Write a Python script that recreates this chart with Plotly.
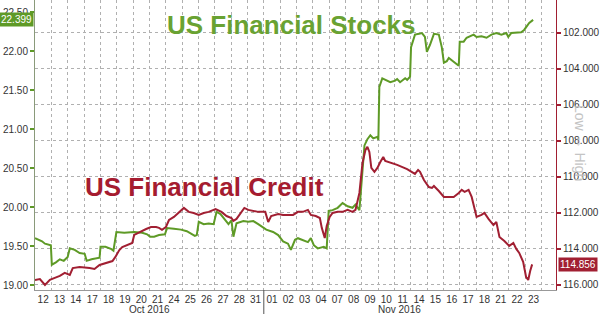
import plotly.graph_objects as go

# trading-day labels (each session occupies one unit on the x axis)
day_labels = ["12", "13", "14", "17", "18", "19", "20", "21", "24", "25", "26", "27", "28", "31",
              "01", "02", "03", "04", "07", "08", "09", "10", "11", "14", "15", "16", "17", "18",
              "21", "22", "23"]
month_labels = ["Oct 2016", "Nov 2016"]
month_pos = [7.0, 22.3]
month_break = 14

# US Financial Stocks (left axis) - session position, price
stocks_x = [0.00, 0.43, 0.61, 0.97, 1.03, 1.28, 1.52, 1.76, 2.00, 2.13, 2.43, 2.73, 3.04, 3.16, 3.46,
            3.95, 4.01, 4.31, 4.68, 4.80, 4.98, 5.46, 6.07, 6.56, 6.86, 7.04, 7.29, 7.59, 7.95, 8.08,
            8.50, 8.93, 9.29, 9.59, 9.78, 9.90, 10.02, 10.32, 10.63, 10.93, 11.11, 11.35, 11.54, 11.84,
            12.02, 12.14, 12.33, 12.75, 13.05, 13.36, 13.66, 13.96, 14.15, 14.57, 14.88, 15.18, 15.48,
            15.66, 15.91, 16.09, 16.39, 16.70, 16.88, 17.06, 17.30, 17.67, 17.85, 17.97, 18.21, 18.52,
            18.82, 19.13, 19.43, 19.61, 19.85, 19.98, 20.16, 20.34, 20.52, 20.70, 20.95, 21.01, 21.07,
            21.25, 21.43, 21.74, 22.04, 22.16, 22.34, 22.65, 22.77, 22.95, 23.01, 23.13, 23.25, 23.50,
            23.68, 23.86, 23.98, 24.17, 24.41, 24.71, 24.89, 25.02, 25.20, 25.32, 25.50, 25.68, 25.93,
            25.99, 26.23, 26.41, 26.84, 27.02, 27.32, 27.63, 27.93, 28.23, 28.54, 28.84, 28.96, 29.14,
            29.45, 29.75, 29.93, 30.24, 30.48]
stocks_y = [19.60, 19.56, 19.53, 19.51, 19.26, 19.29, 19.33, 19.31, 19.36, 19.47, 19.45, 19.41, 19.40, 19.31, 19.33,
            19.35, 19.49, 19.49, 19.46, 19.44, 19.68, 19.67, 19.68, 19.67, 19.65, 19.62, 19.62, 19.64, 19.65, 19.73,
            19.72, 19.71, 19.69, 19.65, 19.63, 19.64, 19.81, 19.78, 19.79, 19.78, 19.94, 19.91, 19.86, 19.78,
            19.83, 19.62, 19.79, 19.82, 19.81, 19.82, 19.78, 19.74, 19.71, 19.68, 19.64, 19.56, 19.53,
            19.45, 19.58, 19.60, 19.58, 19.55, 19.60, 19.51, 19.47, 19.49, 19.47, 19.95, 19.96, 19.99,
            20.05, 20.01, 19.99, 20.03, 19.96, 20.35, 20.79, 20.87, 20.92, 20.88, 20.90, 20.86, 21.54,
            21.65, 21.63, 21.60, 21.62, 21.64, 21.60, 21.65, 21.63, 21.67, 22.05, 22.14, 22.21, 22.22,
            22.23, 22.18, 21.99, 22.08, 22.22, 22.21, 22.05, 21.85, 21.87, 21.91, 21.88, 21.86, 21.81,
            22.12, 22.12, 22.17, 22.21, 22.18, 22.19, 22.17, 22.21, 22.23, 22.21, 22.23, 22.18, 22.23,
            22.24, 22.24, 22.27, 22.36, 22.399]

# US Financial Credit (right axis, inverted) - session position, spread level
credit_x = [0.00, 0.30, 0.61, 0.91, 1.21, 1.52, 1.82, 2.13, 2.31, 2.73, 3.34, 3.64, 3.95, 4.55, 4.74, 4.92,
            5.16, 5.34, 5.65, 5.95, 6.07, 6.38, 6.80, 7.10, 7.41, 7.59, 7.77, 8.01, 8.20, 8.50, 8.80, 9.11,
            9.41, 9.71, 10.02, 10.32, 10.63, 11.05, 11.41, 11.72, 12.02, 12.14, 12.33, 12.57, 12.81, 13.05,
            13.36, 13.66, 14.09, 14.27, 14.45, 14.88, 15.18, 15.48, 15.79, 16.09, 16.39, 16.70, 16.88, 17.18,
            17.43, 17.55, 17.73, 17.85, 18.03, 18.21, 18.52, 18.82, 19.13, 19.43, 19.61, 19.85, 20.04, 20.22,
            20.34, 20.46, 20.58, 20.77, 20.95, 21.13, 21.31, 21.43, 21.86, 22.16, 22.77, 23.07, 23.25, 23.44,
            23.56, 23.80, 24.10, 24.29, 24.41, 24.71, 25.02, 25.38, 25.62, 25.93, 26.11, 26.29, 26.53, 26.72,
            26.90, 27.02, 27.32, 27.50, 27.75, 28.05, 28.23, 28.42, 28.72, 29.02, 29.27, 29.45, 29.63, 29.87,
            30.05, 30.18, 30.30, 30.42]
credit_y = [115.72, 115.67, 116.00, 115.72, 115.61, 115.50, 115.33, 115.44, 115.06, 115.00, 115.06, 115.11, 114.89, 114.72, 114.67, 114.44,
            114.06, 113.89, 113.78, 113.67, 113.22, 113.06, 112.89, 112.78, 112.78, 112.83, 112.94, 112.78, 112.39, 112.22, 112.00, 111.72,
            111.94, 112.00, 112.11, 112.00, 111.94, 111.78, 111.94, 112.17, 112.28, 112.44, 112.33, 112.00, 111.72, 111.83,
            111.89, 111.94, 111.94, 112.50, 112.17, 112.06, 112.11, 112.11, 112.11, 111.94, 111.94, 111.83, 112.11, 112.17,
            112.28, 112.83, 113.39, 112.72, 112.22, 112.00, 111.94, 111.94, 111.83, 111.94, 111.83, 110.89, 109.22, 108.50,
            108.33, 108.61, 109.50, 109.72, 109.50, 109.17, 108.89, 109.11, 109.22, 109.33, 109.56, 109.72, 109.83, 109.61,
            109.72, 110.17, 110.56, 110.61, 110.50, 110.78, 111.11, 111.11, 111.11, 110.89, 110.72, 110.83, 110.72, 111.11,
            111.72, 112.22, 112.11, 112.00, 112.33, 112.67, 112.50, 113.33, 113.56, 113.83, 113.67, 114.00, 114.22, 114.72,
            115.56, 115.72, 115.22, 114.856]

left_ticks = [19.0, 19.5, 20.0, 20.5, 21.0, 21.5, 22.0, 22.5]
right_ticks = [102, 104, 106, 108, 110, 112, 114, 116]

GREEN = "#5e9a26"
RED = "#a11f32"
TITLE_GREEN = "#69a232"
TITLE_RED = "#a51c30"
FONT = "Liberation Sans, Arial, sans-serif"

fig = go.Figure()
fig.add_trace(go.Scatter(x=stocks_x, y=stocks_y, mode="lines",
                         line=dict(color=GREEN, width=2), yaxis="y", name="US Financial Stocks"))
fig.add_trace(go.Scatter(x=credit_x, y=credit_y, mode="lines",
                         line=dict(color=RED, width=2), yaxis="y2", name="US Financial Credit"))

n_days = len(day_labels)
fig.update_layout(
    width=600, height=314,
    margin=dict(l=35, r=40, t=0, b=24),
    paper_bgcolor="white", plot_bgcolor="white",
    showlegend=False,
    font=dict(family=FONT, size=10, color="#333"),
    xaxis=dict(
        range=[0, 31.88],
        tickmode="array",
        tickvals=[i + 0.5 for i in range(n_days)],
        ticktext=day_labels,
        showgrid=False, zeroline=False,
        ticks="", ticklen=0,
        showline=True, linecolor="#999", linewidth=1,
        tickfont=dict(size=10, color="#333"),
        minor=dict(tick0=0, dtick=1, showgrid=True, gridcolor="#b0b0b0",
                   griddash="dot", gridwidth=1),
    ),
    yaxis=dict(
        range=[18.936, 22.654],
        tickmode="array", tickvals=left_ticks,
        tickformat=".2f",
        showgrid=False, zeroline=False,
        ticks="outside", ticklen=4, tickwidth=2, tickcolor=GREEN,
        showline=True, linecolor="#8a9a7a", linewidth=1,
        tickfont=dict(size=10, color="#333"),
    ),
    yaxis2=dict(
        range=[116.28, 100.17],
        overlaying="y", side="right",
        tickmode="array", tickvals=right_ticks,
        tickformat=",.3f",
        showgrid=True, gridcolor="#b0b0b0", griddash="dot", gridwidth=1,
        zeroline=False,
        ticks="outside", ticklen=4, tickwidth=2, tickcolor=RED,
        showline=True, linecolor=RED, linewidth=1,
        tickfont=dict(size=10, color="#333"),
    ),
)

annotations = [
    dict(text="<b>US Financial Stocks</b>", x=15.7, y=22.333, xref="x", yref="y",
         xanchor="center", yanchor="middle", showarrow=False,
         font=dict(family=FONT, size=26, color=TITLE_GREEN)),
    dict(text="<b>US Financial Credit</b>", x=10.4, y=110.56, xref="x", yref="y2",
         xanchor="center", yanchor="middle", showarrow=False,
         font=dict(family=FONT, size=26, color=TITLE_RED)),
    dict(text=f"{stocks_y[-1]:.3f}", x=0, y=stocks_y[-1], xref="paper", yref="y",
         xanchor="right", yanchor="middle", showarrow=False, xshift=-1,
         bgcolor=GREEN, borderpad=1, font=dict(family=FONT, size=10, color="white")),
    dict(text=f"{credit_y[-1]:.3f}", x=1, y=credit_y[-1], xref="paper", yref="y2",
         xanchor="left", yanchor="middle", showarrow=False, xshift=2,
         bgcolor=RED, borderpad=1, font=dict(family=FONT, size=10, color="white")),
    dict(text="Low ⇔ High", x=1, y=0.507, xref="paper", yref="paper",
         xanchor="center", yanchor="middle", showarrow=False, xshift=24, textangle=90,
         font=dict(family=FONT, size=14, color="#c4c4c4")),
]
for lab, pos in zip(month_labels, month_pos):
    annotations.append(dict(text=lab, x=pos, y=-0.068, xref="x", yref="paper",
                            xanchor="center", yanchor="middle", showarrow=False,
                            font=dict(family=FONT, size=10, color="#333")))
fig.update_layout(annotations=annotations)

fig.add_shape(type="line", x0=month_break, x1=month_break, y0=0, y1=-0.09,
              xref="x", yref="paper", line=dict(color="#555", width=1))

fig.write_html("out.html")
